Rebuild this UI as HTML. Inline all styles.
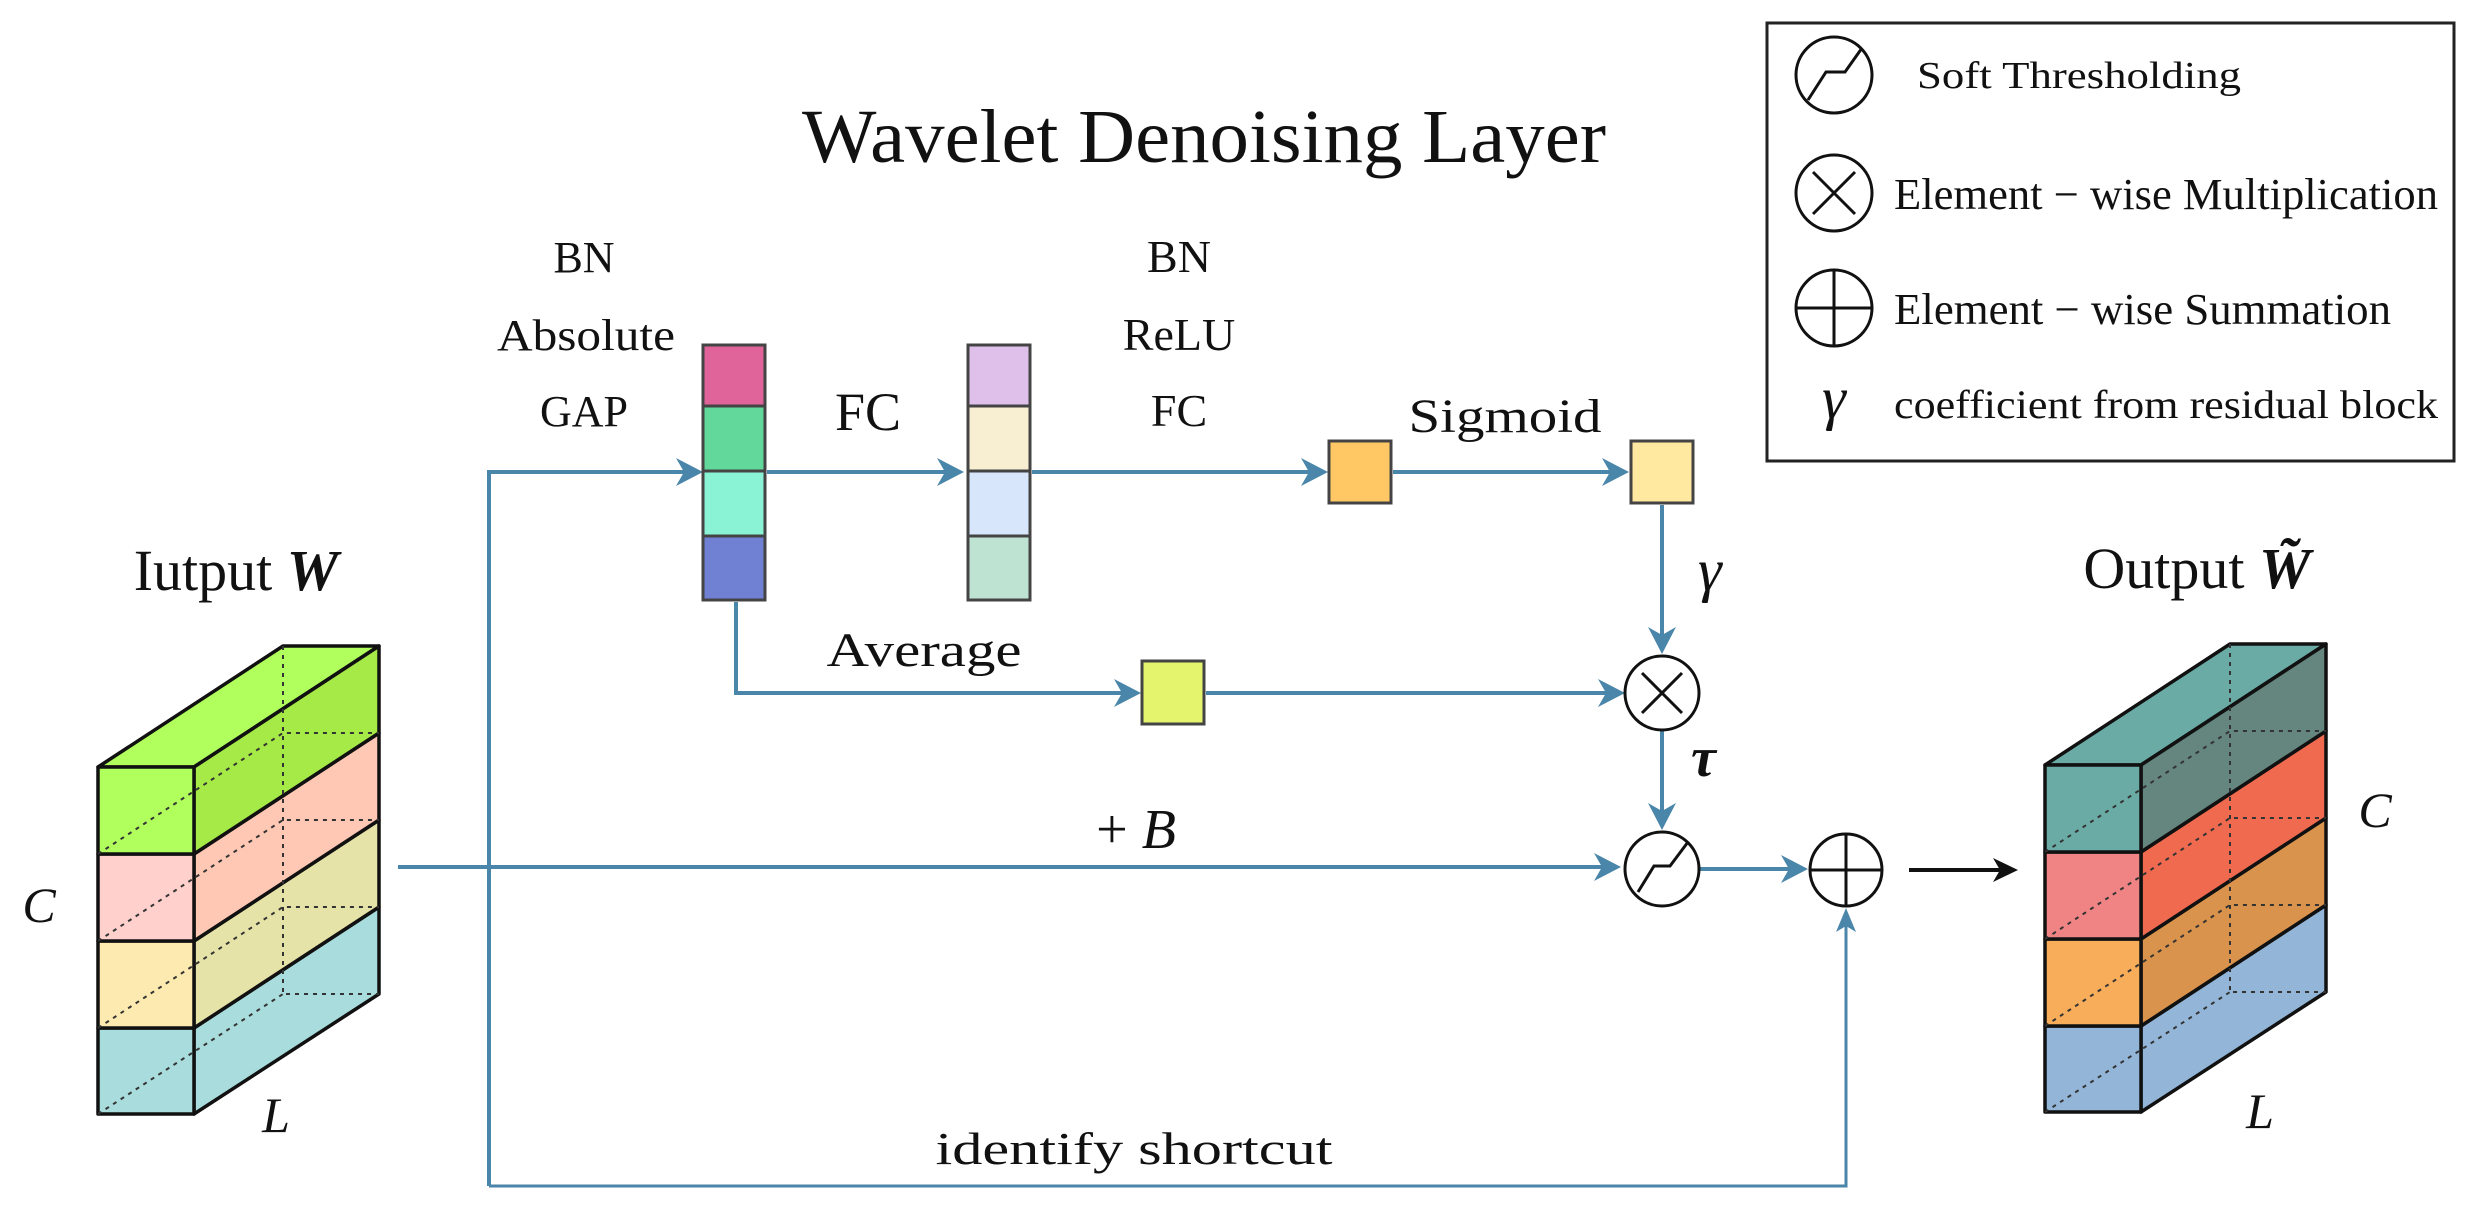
<!DOCTYPE html>
<html><head><meta charset="utf-8"><style>
html,body{margin:0;padding:0;background:#fff;}
svg{display:block;}
text{font-family:"Liberation Serif",serif;fill:#111;}
</style></head><body>
<svg width="2475" height="1209" viewBox="0 0 2475 1209" xmlns="http://www.w3.org/2000/svg">
<style>
.bl{stroke:#4a86aa;stroke-width:4;fill:none;}
.ah{fill:#4a86aa;}
.ed{stroke:#111;stroke-width:3.5;stroke-linejoin:round;}
.ds{stroke:#333;stroke-width:2;stroke-dasharray:4 5;fill:none;}
</style>

<!-- Title -->
<text x="1204" y="162" font-size="76" text-anchor="middle" textLength="804" lengthAdjust="spacingAndGlyphs">Wavelet Denoising Layer</text>

<!-- Legend -->
<rect x="1767" y="23" width="687" height="438" fill="#fff" stroke="#222" stroke-width="3"/>
<circle cx="1834" cy="75" r="38" fill="none" stroke="#111" stroke-width="3"/>
<path d="M1808 100 L1826 72 L1845 72 L1862 48" fill="none" stroke="#111" stroke-width="3"/>
<text x="1917" y="88" font-size="38" textLength="324" lengthAdjust="spacingAndGlyphs">Soft Thresholding</text>
<circle cx="1834" cy="193" r="38" fill="none" stroke="#111" stroke-width="3"/>
<path d="M1813 172 L1855 214 M1855 172 L1813 214" stroke="#111" stroke-width="3"/>
<text x="1894" y="209" font-size="44" textLength="544" lengthAdjust="spacingAndGlyphs">Element − wise Multiplication</text>
<circle cx="1834" cy="308" r="38" fill="none" stroke="#111" stroke-width="3"/>
<path d="M1796 308 L1872 308 M1834 270 L1834 346" stroke="#111" stroke-width="3"/>
<text x="1894" y="324" font-size="44" textLength="497" lengthAdjust="spacingAndGlyphs">Element − wise Summation</text>
<text x="1834" y="418" font-size="60" font-style="italic" text-anchor="middle">γ</text>
<text x="1894" y="418" font-size="40" textLength="544" lengthAdjust="spacingAndGlyphs">coefficient from residual block</text>

<!-- Labels -->
<text x="584" y="272" font-size="44" text-anchor="middle">BN</text>
<text x="586" y="350" font-size="44" text-anchor="middle" textLength="178" lengthAdjust="spacingAndGlyphs">Absolute</text>
<text x="584" y="426" font-size="44" text-anchor="middle">GAP</text>
<text x="868" y="430" font-size="54" text-anchor="middle">FC</text>
<text x="1179" y="272" font-size="46" text-anchor="middle">BN</text>
<text x="1179" y="350" font-size="46" text-anchor="middle">ReLU</text>
<text x="1179" y="426" font-size="46" text-anchor="middle">FC</text>
<text x="1505" y="432" font-size="48" text-anchor="middle" textLength="193" lengthAdjust="spacingAndGlyphs">Sigmoid</text>
<text x="924" y="666" font-size="48" text-anchor="middle" textLength="195" lengthAdjust="spacingAndGlyphs">Average</text>
<text x="1698" y="590" font-size="60" font-style="italic">γ</text>
<text x="1691" y="776" font-size="56" font-style="italic" font-weight="bold">τ</text>
<text x="1136" y="848" font-size="56" text-anchor="middle">+ <tspan font-style="italic">B</tspan></text>
<text x="1134" y="1164" font-size="46" text-anchor="middle" textLength="397" lengthAdjust="spacingAndGlyphs">identify shortcut</text>

<!-- Connectors -->
<path class="bl" d="M489 1186 L489 472 L690 472"/>
<path class="ah" d="M703 472 L676 458 L684 472 L676 486 Z"/>
<path class="bl" d="M767 472 L950 472"/>
<path class="ah" d="M964 472 L937 458 L945 472 L937 486 Z"/>
<path class="bl" d="M1032 472 L1315 472"/>
<path class="ah" d="M1328 472 L1301 458 L1309 472 L1301 486 Z"/>
<path class="bl" d="M1393 472 L1615 472"/>
<path class="ah" d="M1629 472 L1602 458 L1610 472 L1602 486 Z"/>
<path class="bl" d="M1662 505 L1662 640"/>
<path class="ah" d="M1662 654 L1648 627 L1662 635 L1676 627 Z"/>
<path class="bl" d="M736 602 L736 693 L1128 693"/>
<path class="ah" d="M1141 693 L1114 679 L1122 693 L1114 707 Z"/>
<path class="bl" d="M1206 693 L1612 693"/>
<path class="ah" d="M1625 693 L1598 679 L1606 693 L1598 707 Z"/>
<path class="bl" d="M1662 731 L1662 816"/>
<path class="ah" d="M1662 830 L1648 803 L1662 811 L1676 803 Z"/>
<path class="bl" d="M398 867 L1608 867"/>
<path class="ah" d="M1621 867 L1594 853 L1602 867 L1594 881 Z"/>
<path class="bl" d="M1699 869 L1795 869"/>
<path class="ah" d="M1808 869 L1781 855 L1789 869 L1781 883 Z"/>
<path class="bl" style="stroke-width:3" d="M489 1186 L1846 1186 L1846 920"/>
<path class="ah" d="M1846 908 L1836 932 L1846 926 L1856 932 Z"/>
<path d="M1909 870 L2005 870" stroke="#111" stroke-width="4"/>
<path d="M2018 870 L1993 858 L2000 870 L1993 882 Z" fill="#111"/>

<!-- Circles -->
<circle cx="1662" cy="693" r="37" fill="#fff" stroke="#111" stroke-width="3"/>
<path d="M1642 673 L1682 713 M1682 673 L1642 713" stroke="#111" stroke-width="3"/>
<circle cx="1662" cy="869" r="37" fill="#fff" stroke="#111" stroke-width="3"/>
<path d="M1638 892 L1654 866 L1670 866 L1688 842" fill="none" stroke="#111" stroke-width="3"/>
<circle cx="1846" cy="870" r="36" fill="#fff" stroke="#111" stroke-width="3"/>
<path d="M1810 870 L1882 870 M1846 834 L1846 906" stroke="#111" stroke-width="3"/>

<!-- Columns -->
<g stroke="#444" stroke-width="3">
<rect x="703" y="345" width="62" height="61" fill="#e0649a"/>
<rect x="703" y="406" width="62" height="65" fill="#63d89b"/>
<rect x="703" y="471" width="62" height="65" fill="#8af3d6"/>
<rect x="703" y="536" width="62" height="64" fill="#7080d2"/>
<rect x="968" y="345" width="62" height="61" fill="#dfc0ea"/>
<rect x="968" y="406" width="62" height="65" fill="#f8efd2"/>
<rect x="968" y="471" width="62" height="65" fill="#d8e6fb"/>
<rect x="968" y="536" width="62" height="64" fill="#bfe3d2"/>
<rect x="1329" y="441" width="62" height="62" fill="#ffc864"/>
<rect x="1631" y="441" width="62" height="62" fill="#ffe9a0"/>
<rect x="1142" y="661" width="62" height="63" fill="#e4f46c"/>
</g>

<!-- Left cube -->
<text x="236" y="590" font-size="58" text-anchor="middle">Iutput <tspan font-style="italic" font-weight="bold">W</tspan></text>
<text x="39" y="922" font-size="50" font-style="italic" text-anchor="middle">C</text>
<text x="276" y="1132" font-size="50" font-style="italic" text-anchor="middle">L</text>
<g class="ed">
<polygon points="194,1028 379,907 379,994 194,1114" fill="#a9dcdc"/>
<rect x="98" y="1028" width="96" height="86" fill="#a9dcdc"/>
<polygon points="194,941 379,820 379,907 194,1028" fill="#e6e3a8"/>
<rect x="98" y="941" width="96" height="87" fill="#fdeab0"/>
<polygon points="194,854 379,733 379,820 194,941" fill="#ffc8b4"/>
<rect x="98" y="854" width="96" height="87" fill="#ffd0cc"/>
<polygon points="98,767 283,646 379,646 194,767" fill="#b0ff5c"/>
<polygon points="194,767 379,646 379,733 194,854" fill="#a6ea48"/>
<rect x="98" y="767" width="96" height="87" fill="#b0ff5c"/>
</g>
<g class="ds">
<path d="M283 646 L283 994 L379 994 M98 1114 L283 994 M98 854 L283 733 L379 733 M98 941 L283 820 L379 820 M98 1028 L283 907 L379 907"/>
</g>

<!-- Right cube -->
<text x="2197" y="588" font-size="58" text-anchor="middle">Output <tspan font-style="italic" font-weight="bold">W̃</tspan></text>
<text x="2375" y="827" font-size="50" font-style="italic" text-anchor="middle">C</text>
<text x="2260" y="1128" font-size="50" font-style="italic" text-anchor="middle">L</text>
<g class="ed">
<polygon points="2141,1026 2326,905 2326,992 2141,1112" fill="#92b5d8"/>
<rect x="2045" y="1026" width="96" height="86" fill="#92b5d8"/>
<polygon points="2141,939 2326,818 2326,905 2141,1026" fill="#d9934c"/>
<rect x="2045" y="939" width="96" height="87" fill="#f8ad5a"/>
<polygon points="2141,852 2326,731 2326,818 2141,939" fill="#f06a50"/>
<rect x="2045" y="852" width="96" height="87" fill="#f08484"/>
<polygon points="2045,765 2230,644 2326,644 2141,765" fill="#6aaba5"/>
<polygon points="2141,765 2326,644 2326,731 2141,852" fill="#65857f"/>
<rect x="2045" y="765" width="96" height="87" fill="#6aaba5"/>
</g>
<g class="ds">
<path d="M2230 644 L2230 992 L2326 992 M2045 1112 L2230 992 M2045 852 L2230 731 L2326 731 M2045 939 L2230 818 L2326 818 M2045 1026 L2230 905 L2326 905"/>
</g>
</svg>
</body></html>
